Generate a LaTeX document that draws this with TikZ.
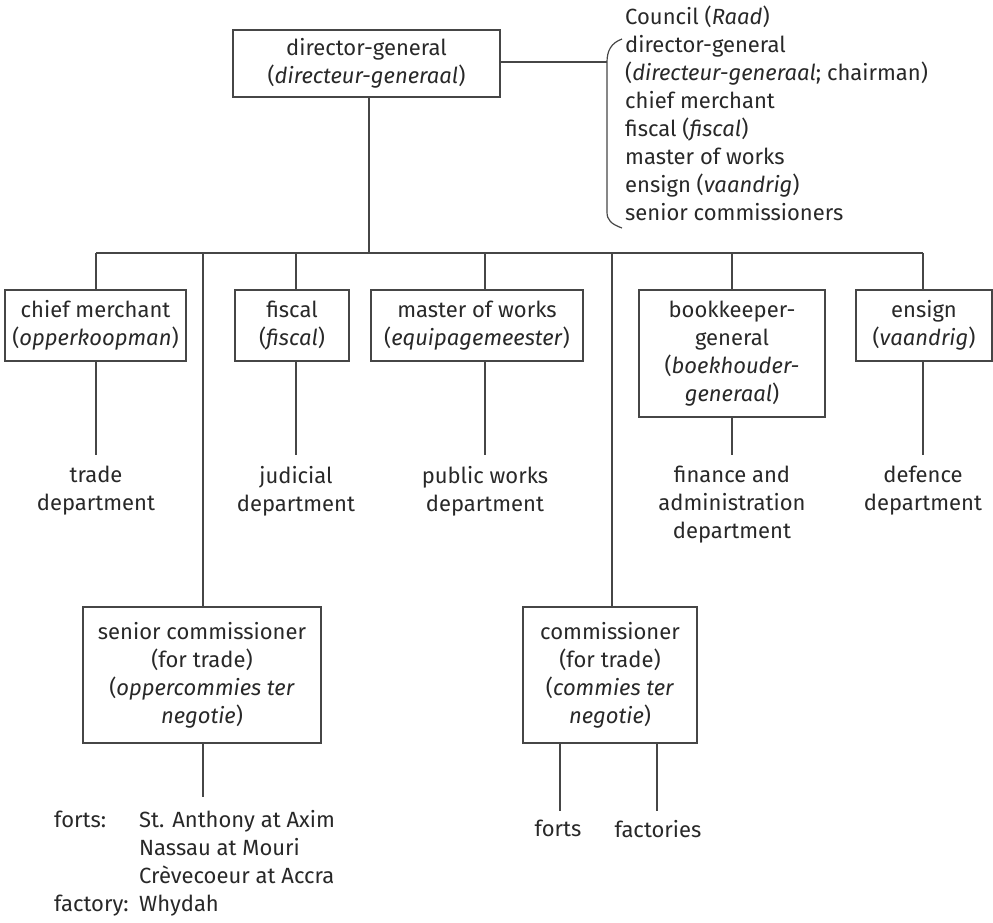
\documentclass[tikz,border=0pt]{standalone}
\usepackage{fontspec}
\setmainfont{Fira Sans}
\definecolor{txt}{RGB}{40,40,40}
\definecolor{ln}{RGB}{70,70,70}
\begin{document}
\begin{tikzpicture}[x=1pt,y=-1pt,
  every node/.style={font=\fontsize{22}{28}\selectfont, text=txt, inner sep=0pt},
  box/.style={draw=ln, line width=1.2pt, align=center},
  lbl/.style={align=center, anchor=north},
  conn/.style={draw=ln, line width=1.2pt}]
\useasboundingbox (0,0) rectangle (993,923);

% boxes
\node[box, minimum width=267pt, minimum height=67pt] (dg) at (366.5,63.5) {director-general\\(\textit{directeur-generaal})};
\node[box, minimum width=181pt, minimum height=71pt] (cm) at (95.5,325.5) {chief merchant\\(\textit{opperkoopman})};
\node[box, minimum width=114pt, minimum height=71pt] (fi) at (292,325.5) {fiscal\\(\textit{fiscal})};
\node[box, minimum width=212pt, minimum height=71pt] (mw) at (477,325.5) {master of works\\(\textit{equipagemeester})};
\node[box, minimum width=186pt, minimum height=127pt] (bk) at (732,353.5) {bookkeeper-\\general\\(\textit{boekhouder-}\\\textit{generaal})};
\node[box, minimum width=136pt, minimum height=71pt] (en) at (924,325.5) {ensign\\(\textit{vaandrig})};
\node[box, minimum width=238pt, minimum height=136pt] (sc) at (202,675) {senior commissioner\\(for trade)\\(\textit{oppercommies ter}\\\textit{negotie})};
\node[box, minimum width=174pt, minimum height=136pt] (co) at (610,675) {commissioner\\(for trade)\\(\textit{commies ter}\\\textit{negotie})};

% department labels
\node[lbl] (trade) at (96,466) {trade\\department};
\node[lbl] (jud) at (296,466) {judicial\\department};
\node[lbl] (pub) at (485,466) {public works\\department};
\node[lbl] (fin) at (732,466) {finance and\\administration\\department};
\node[lbl] (def) at (923,466) {defence\\department};

% council list
\node[align=left, anchor=north west] (council) at (625,6) {Council (\textit{Raad})\\director-general\\(\textit{directeur-generaal}; chairman)\\chief merchant\\fiscal (\textit{fiscal})\\master of works\\ensign (\textit{vaandrig})\\senior commissioners};

% forts list
\node[anchor=north west] (forts) at (54,808) {\begin{tabular}{@{}p{85pt}@{}l@{}}
forts: & St. Anthony at Axim\\
 & Nassau at Mouri\\
 & Crèvecoeur at Accra\\
factory: & Whydah
\end{tabular}};
\node[lbl] (fo) at (558,820) {forts};
\node[lbl] (fa) at (658,820) {factories};

% coordinates
\coordinate (b1) at (96,253);
\coordinate (b2) at (203,253);
\coordinate (b3) at (296,253);
\coordinate (dgl) at (369,253);
\coordinate (b4) at (485,253);
\coordinate (b5) at (612,253);
\coordinate (b6) at (732,253);
\coordinate (b7) at (923,253);
\coordinate (br) at (607,62);
\coordinate (scend) at (203,797);
\coordinate (fol) at (560,811);
\coordinate (fal) at (657,811);

% connectors
\draw[conn] (b1) -- (b7);
\draw[conn] (dg.south -| dgl) -- (dgl);
\draw[conn] (b1) -- (b1 |- cm.north);
\draw[conn] (b3) -- (b3 |- fi.north);
\draw[conn] (b4) -- (b4 |- mw.north);
\draw[conn] (b6) -- (b6 |- bk.north);
\draw[conn] (b7) -- (b7 |- en.north);
\draw[conn] (b2) -- (b2 |- sc.north);
\draw[conn] (b5) -- (b5 |- co.north);

\draw[conn] (cm.south -| b1) -- ([yshift=11pt]trade.north);
\draw[conn] (fi.south -| b3) -- ([yshift=11pt]jud.north);
\draw[conn] (mw.south -| b4) -- ([yshift=11pt]pub.north);
\draw[conn] (bk.south -| b6) -- ([yshift=11pt]fin.north);
\draw[conn] (en.south -| b7) -- ([yshift=11pt]def.north);

\draw[conn] (sc.south -| scend) -- (scend);
\draw[conn] (co.south -| fol) -- (fol);
\draw[conn] (co.south -| fal) -- (fal);

% council brace
\draw[conn] (dg.east |- br) -- (br);
\draw[conn] (622,39) .. controls (611,43) and (607,51) .. (br) -- (607,212) .. controls (607,220) and (611,224) .. (622,228);
\end{tikzpicture}
\end{document}
